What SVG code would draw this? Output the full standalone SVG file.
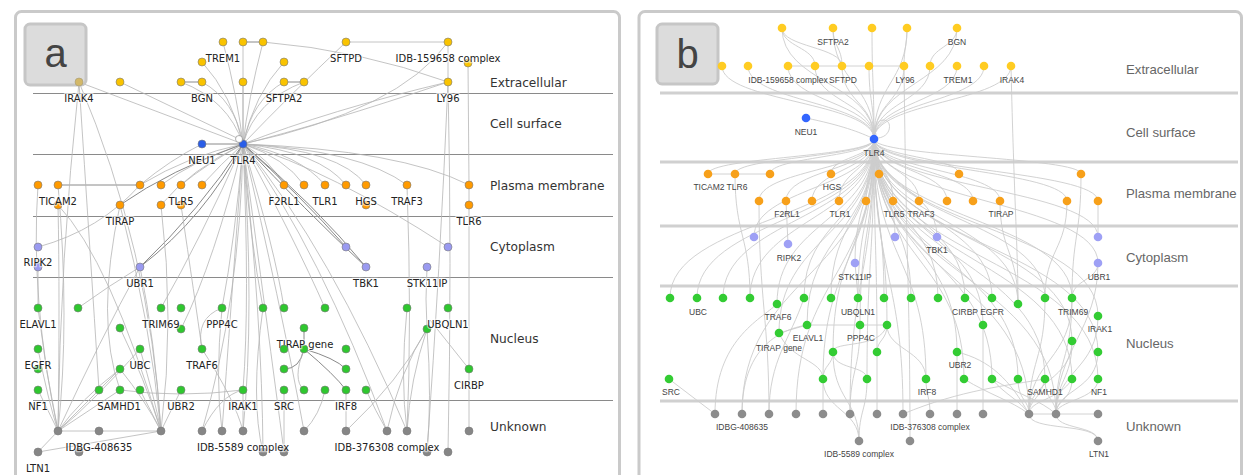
<svg xmlns="http://www.w3.org/2000/svg" width="1244" height="475" viewBox="0 0 1244 475">
<style>
.frame{fill:#fff;stroke:#cacaca;stroke-width:3}
.tag{fill:#dcdcdc;stroke:#c6c6c6;stroke-width:3}
.tagt{font-family:"Liberation Sans",Arial,sans-serif;font-size:40px;fill:#444;text-anchor:middle}
.lane-a{stroke:#8a8a8a;stroke-width:1}
.lane-b{stroke:#d0d0d0;stroke-width:3}
.ra{font-family:"DejaVu Sans",Verdana,sans-serif;font-size:12.2px;fill:#333}
.rb{font-family:"Liberation Sans",Arial,sans-serif;font-size:13.2px;fill:#666}
.ea{fill:none;stroke:#b5b5b5;stroke-width:0.8}
.ead{fill:none;stroke:#8a8a8a;stroke-width:1}
.eb{fill:none;stroke:#cdcdcd;stroke-width:0.9}
.na circle{stroke:#7a7a7a;stroke-width:0.6}
.ya{fill:#f9c300}.oa{fill:#ff9a00}.pa{fill:#9a9af0}.ga{fill:#2fc72f}.ka{fill:#868686}.ba{fill:#2a5ee8}
.yb{fill:#ffcc22}.ob{fill:#f7a01a}.pb{fill:#9ea0f5}.gb{fill:#33cc33}.kb{fill:#8c8c8c}.bb{fill:#3366ff}
.la{font-family:"DejaVu Sans",Verdana,sans-serif;font-size:10px;fill:#222;text-anchor:middle;stroke:#fff;stroke-width:2.5;stroke-opacity:.55;paint-order:stroke}
.lb{font-family:"Liberation Sans",Arial,sans-serif;font-size:8.5px;fill:#444;text-anchor:middle}
</style>

<!-- panel frames -->
<rect class="frame" x="15.5" y="11.5" width="604" height="480" rx="6"/>
<rect class="frame" x="639" y="11.5" width="602.5" height="480" rx="6"/>

<!-- compartment lanes, panel a -->
<g id="lanes-a">
<line class="lane-a" x1="33" y1="93.5" x2="613" y2="93.5"/>
<line class="lane-a" x1="33" y1="154.5" x2="613" y2="154.5"/>
<line class="lane-a" x1="33" y1="216.5" x2="613" y2="216.5"/>
<line class="lane-a" x1="33" y1="277.5" x2="613" y2="277.5"/>
<line class="lane-a" x1="33" y1="400.5" x2="613" y2="400.5"/>
<text class="ra" x="490" y="87">Extracellular</text>
<text class="ra" x="490" y="128">Cell surface</text>
<text class="ra" x="490" y="190">Plasma membrane</text>
<text class="ra" x="490" y="251">Cytoplasm</text>
<text class="ra" x="490" y="343">Nucleus</text>
<text class="ra" x="490" y="431">Unknown</text>
</g>

<!-- compartment lanes, panel b -->
<g id="lanes-b">
<line class="lane-b" x1="660" y1="93" x2="1238" y2="93"/>
<line class="lane-b" x1="660" y1="162" x2="1238" y2="162"/>
<line class="lane-b" x1="660" y1="226" x2="1238" y2="226"/>
<line class="lane-b" x1="660" y1="286" x2="1238" y2="286"/>
<line class="lane-b" x1="660" y1="401" x2="1238" y2="401"/>
<text class="rb" x="1126" y="74">Extracellular</text>
<text class="rb" x="1126" y="137">Cell surface</text>
<text class="rb" x="1126" y="198">Plasma membrane</text>
<text class="rb" x="1126" y="262">Cytoplasm</text>
<text class="rb" x="1126" y="348">Nucleus</text>
<text class="rb" x="1126" y="431">Unknown</text>
</g>

<!-- interactions, panel a -->
<g id="edges-a">
<path class="ea" d="M223,42 Q238,100 243,144"/>
<path class="ea" d="M243,42 L243,144"/>
<path class="ea" d="M263,42 Q248,100 243,144"/>
<path class="ea" d="M202,62 Q232,95 243,144"/>
<path class="ea" d="M284,62 Q254,95 243,144"/>
<path class="ea" d="M181,82 Q228,100 243,144"/>
<path class="ea" d="M202,82 Q235,100 243,144"/>
<path class="ea" d="M243,82 L243,144"/>
<path class="ea" d="M284,82 Q252,100 243,144"/>
<path class="ea" d="M304,82 Q256,100 243,144"/>
<path class="ea" d="M120,82 L239,139"/>
<path class="ea" d="M84,84 L243,144"/>
<path class="ea" d="M448,82 Q330,110 243,144"/>
<path class="ea" d="M448,82 Q320,125 243,144"/>
<path class="ea" d="M346,42 Q290,95 243,144"/>
<path class="ea" d="M448,42 Q400,110 243,144"/>
<path class="ea" d="M263,42 Q360,50 448,82"/>
<path class="ead" d="M243,42 L263,42"/>
<path class="ead" d="M181,82 L202,82"/>
<path class="ead" d="M284,82 L304,82"/>
<path class="ea" d="M346,42 L448,42"/>
<path class="ea" d="M448,42 L448,82"/>
<path class="ea" d="M448,82 Q452,260 448,452"/>
<path class="ea" d="M448,82 Q440,270 427,452"/>
<path class="ea" d="M468,63 L469,185"/>
<path class="ead" d="M202,144 L243,144"/>
<path class="ea" d="M243,144 Q190,155 140,185"/>
<path class="ea" d="M243,144 Q195,160 161,185"/>
<path class="ea" d="M243,144 Q205,165 181,185"/>
<path class="ea" d="M243,144 Q220,165 202,185"/>
<path class="ead" d="M243,144 Q170,170 120,205"/>
<path class="ea" d="M243,144 Q190,170 161,205"/>
<path class="ead" d="M58,185 L140,185"/>
<path class="ea" d="M140,185 Q170,160 202,144"/>
<path class="ea" d="M243,144 Q270,160 284,185"/>
<path class="ea" d="M243,144 Q285,158 304,185"/>
<path class="ea" d="M243,144 Q300,155 325,185"/>
<path class="ea" d="M243,144 Q320,152 346,185"/>
<path class="ea" d="M243,144 Q340,150 366,185"/>
<path class="ea" d="M243,144 Q360,150 407,185"/>
<path class="ea" d="M243,144 Q400,150 469,185"/>
<path class="ea" d="M243,144 Q330,170 448,247"/>
<path class="ead" d="M243,144 Q300,195 346,247"/>
<path class="ead" d="M243,144 Q305,210 366,267"/>
<path class="ead" d="M243,144 Q315,205 366,267"/>
<path class="ea" d="M243,144 Q330,250 407,431"/>
<path class="ea" d="M243,144 Q320,250 387,431"/>
<path class="ead" d="M243,144 Q200,210 140,267"/>
<path class="ead" d="M243,144 Q206,216 140,267"/>
<path class="ea" d="M243,144 Q250,300 243,390"/>
<path class="ea" d="M243,144 Q255,310 243,431"/>
<path class="ea" d="M243,144 Q262,320 263,452"/>
<path class="ea" d="M243,144 Q268,330 284,452"/>
<path class="ea" d="M243,144 Q235,240 222,308"/>
<path class="ea" d="M243,144 Q250,240 263,308"/>
<path class="ea" d="M243,144 Q275,250 284,308"/>
<path class="ea" d="M243,144 Q295,240 325,308"/>
<path class="ea" d="M243,144 Q200,240 161,308"/>
<path class="ea" d="M243,144 Q215,260 181,329"/>
<path class="ea" d="M243,144 Q280,300 304,431"/>
<path class="ea" d="M243,144 Q240,300 202,431"/>
<path class="ea" d="M243,144 Q230,320 222,431"/>
<path class="ea" d="M38,247 Q100,230 140,185"/>
<path class="ea" d="M38,267 L38,308"/>
<path class="ea" d="M38,185 Q30,300 58,431"/>
<path class="ea" d="M58,185 Q70,320 58,431"/>
<path class="ea" d="M58,205 Q110,260 161,431"/>
<path class="ea" d="M58,205 Q60,300 58,431"/>
<path class="ea" d="M79,82 Q60,260 58,431"/>
<path class="ea" d="M79,82 Q90,250 99,390"/>
<path class="ea" d="M79,82 Q150,250 161,431"/>
<path class="ea" d="M120,205 Q95,320 120,390"/>
<path class="ea" d="M120,205 Q150,320 161,431"/>
<path class="ea" d="M161,205 Q175,320 161,431"/>
<path class="ea" d="M181,205 Q195,300 202,349"/>
<path class="ea" d="M140,267 Q100,340 58,431"/>
<path class="ea" d="M140,267 Q155,340 161,431"/>
<path class="ea" d="M78,308 Q110,285 140,267"/>
<path class="ea" d="M38,308 Q45,370 58,431"/>
<path class="ea" d="M38,349 Q48,400 58,431"/>
<path class="ea" d="M38,390 L58,431"/>
<path class="ea" d="M99,390 L58,431"/>
<path class="ea" d="M120,390 L58,431"/>
<path class="ea" d="M120,369 Q80,400 58,431"/>
<path class="ea" d="M140,349 Q95,400 58,431"/>
<path class="ea" d="M140,390 L161,431"/>
<path class="ea" d="M181,390 L161,431"/>
<path class="ea" d="M120,369 Q145,400 161,431"/>
<path class="ea" d="M120,328 Q145,380 161,431"/>
<path class="ea" d="M140,349 Q155,400 161,431"/>
<path class="ea" d="M99,390 L120,369"/>
<path class="ea" d="M58,431 L161,431"/>
<path class="ea" d="M38,452 L161,431"/>
<path class="ea" d="M38,452 L58,431"/>
<path class="ea" d="M243,390 L243,431"/>
<path class="ea" d="M202,431 Q220,395 243,390"/>
<path class="ea" d="M243,390 Q180,398 120,390"/>
<path class="ea" d="M202,349 Q195,318 222,308"/>
<path class="ea" d="M202,349 Q235,400 243,431"/>
<path class="ead" d="M304,328 L304,349"/>
<path class="ead" d="M304,349 Q300,369 284,369"/>
<path class="ead" d="M304,349 Q335,358 346,369"/>
<path class="ead" d="M304,349 Q335,375 346,390"/>
<path class="ea" d="M304,349 Q292,380 304,390"/>
<path class="ea" d="M346,390 L346,431"/>
<path class="ea" d="M366,390 Q375,410 387,431"/>
<path class="ea" d="M325,390 Q320,415 304,431"/>
<path class="ea" d="M346,431 Q400,380 427,329"/>
<path class="ea" d="M427,329 Q410,380 407,431"/>
<path class="ea" d="M427,329 Q400,370 387,431"/>
<path class="ea" d="M427,329 Q432,400 427,452"/>
<path class="ea" d="M427,267 Q425,300 427,329"/>
<path class="ea" d="M407,185 Q412,320 407,431"/>
<path class="ea" d="M469,185 L469,369"/>
<path class="ea" d="M430,320 L469,369"/>
<path class="ea" d="M469,369 L469,431"/>
<path class="ea" d="M407,308 Q400,380 407,431"/>
<path class="ea" d="M263,308 Q250,400 263,452"/>
<path class="ea" d="M284,390 L284,452"/>
<path class="ea" d="M222,308 Q215,380 222,431"/>
</g>

<!-- interactions, panel b -->
<g id="edges-b">
<path class="eb" d="M782,28 C782,83 874,83 874,139"/>
<path class="eb" d="M833,28 C833,83 874,83 874,139"/>
<path class="eb" d="M872,28 C872,83 874,83 874,139"/>
<path class="eb" d="M907,28 C907,83 874,83 874,139"/>
<path class="eb" d="M957,28 C957,83 874,83 874,139"/>
<path class="eb" d="M722,66 C722,102 874,102 874,139"/>
<path class="eb" d="M748,66 C748,102 874,102 874,139"/>
<path class="eb" d="M788,66 C788,102 874,102 874,139"/>
<path class="eb" d="M815,66 C815,102 874,102 874,139"/>
<path class="eb" d="M842,66 C842,102 874,102 874,139"/>
<path class="eb" d="M869,66 C869,102 874,102 874,139"/>
<path class="eb" d="M904,66 C904,102 874,102 874,139"/>
<path class="eb" d="M930,66 C930,102 874,102 874,139"/>
<path class="eb" d="M957,66 C957,102 874,102 874,139"/>
<path class="eb" d="M984,66 C984,102 874,102 874,139"/>
<path class="eb" d="M1011,66 C1011,102 874,102 874,139"/>
<path class="eb" d="M788,66 L904,66"/>
<path class="eb" d="M782,28 C782,47 815,47 815,66"/>
<path class="eb" d="M782,28 C782,47 842,47 842,66"/>
<path class="eb" d="M833,28 C833,47 842,47 842,66"/>
<path class="eb" d="M907,28 C907,47 904,47 904,66"/>
<path class="eb" d="M957,28 C957,47 930,47 930,66"/>
<path class="eb" d="M904,66 C906,250 910,300 910,441"/>
<path class="eb" d="M1011,66 C1014,200 1018,250 1018,304"/>
<path class="eb" d="M806,118 C840,125 860,132 874,139"/>
<path class="eb" d="M876,135 C871,117 893,115 889,130 C887,136 881,138 877,138"/>
<path class="eb" d="M874,139 C874,157 708,157 708,174"/>
<path class="eb" d="M874,139 C874,157 735,157 735,174"/>
<path class="eb" d="M874,139 C874,157 770,157 770,174"/>
<path class="eb" d="M874,139 C874,157 831,157 831,174"/>
<path class="eb" d="M874,139 C874,157 879,157 879,174"/>
<path class="eb" d="M874,139 C874,157 959,157 959,174"/>
<path class="eb" d="M874,139 C874,157 1081,157 1081,174"/>
<path class="eb" d="M874,139 C874,170 759,170 759,201"/>
<path class="eb" d="M874,139 C874,170 786,170 786,201"/>
<path class="eb" d="M874,139 C874,170 812,170 812,201"/>
<path class="eb" d="M874,139 C874,170 839,170 839,201"/>
<path class="eb" d="M874,139 C874,170 866,170 866,201"/>
<path class="eb" d="M874,139 C874,170 893,170 893,201"/>
<path class="eb" d="M874,139 C874,170 919,170 919,201"/>
<path class="eb" d="M874,139 C874,170 947,170 947,201"/>
<path class="eb" d="M874,139 C874,170 973,170 973,201"/>
<path class="eb" d="M874,139 C874,170 1000,170 1000,201"/>
<path class="eb" d="M874,139 C874,170 1067,170 1067,201"/>
<path class="eb" d="M874,139 C874,170 1098,170 1098,201"/>
<path class="eb" d="M874,139 C874,188 754,188 754,237"/>
<path class="eb" d="M874,139 C874,201 855,201 855,263"/>
<path class="eb" d="M874,139 C874,188 895,188 895,237"/>
<path class="eb" d="M874,139 C874,188 937,188 937,237"/>
<path class="eb" d="M874,139 C874,188 1098,188 1098,237"/>
<path class="eb" d="M874,139 C874,201 1098,201 1098,263"/>
<path class="eb" d="M874,139 C874,219 670,219 670,298"/>
<path class="eb" d="M874,139 C874,219 697,219 697,298"/>
<path class="eb" d="M874,139 C874,219 723,219 723,298"/>
<path class="eb" d="M874,139 C874,219 750,219 750,298"/>
<path class="eb" d="M874,139 C874,219 804,219 804,298"/>
<path class="eb" d="M874,139 C874,219 831,219 831,298"/>
<path class="eb" d="M874,139 C874,219 858,219 858,298"/>
<path class="eb" d="M874,139 C874,219 884,219 884,298"/>
<path class="eb" d="M874,139 C874,219 911,219 911,298"/>
<path class="eb" d="M874,139 C874,219 938,219 938,298"/>
<path class="eb" d="M874,139 C874,219 965,219 965,298"/>
<path class="eb" d="M874,139 C874,219 992,219 992,298"/>
<path class="eb" d="M874,139 C874,219 1045,219 1045,298"/>
<path class="eb" d="M874,139 C874,219 1072,219 1072,298"/>
<path class="eb" d="M874,139 C874,221 777,221 777,304"/>
<path class="eb" d="M874,139 C874,221 1018,221 1018,304"/>
<path class="eb" d="M874,139 C874,227 1098,227 1098,316"/>
<path class="eb" d="M874,139 C874,232 807,232 807,325"/>
<path class="eb" d="M874,139 C874,232 860,232 860,325"/>
<path class="eb" d="M874,139 C874,232 887,232 887,325"/>
<path class="eb" d="M874,139 C874,232 983,232 983,325"/>
<path class="eb" d="M874,139 C874,236 779,236 779,333"/>
<path class="eb" d="M874,139 C874,240 1072,240 1072,341"/>
<path class="eb" d="M874,139 C874,245 833,245 833,352"/>
<path class="eb" d="M874,139 C874,245 877,245 877,352"/>
<path class="eb" d="M874,139 C874,245 957,245 957,352"/>
<path class="eb" d="M874,139 C874,245 1098,245 1098,352"/>
<path class="eb" d="M874,139 C874,259 823,259 823,379"/>
<path class="eb" d="M874,139 C874,259 867,259 867,379"/>
<path class="eb" d="M874,139 C874,259 926,259 926,379"/>
<path class="eb" d="M874,139 C874,259 964,259 964,379"/>
<path class="eb" d="M874,139 C874,259 992,259 992,379"/>
<path class="eb" d="M874,139 C874,259 1018,259 1018,379"/>
<path class="eb" d="M874,139 C874,259 1045,259 1045,379"/>
<path class="eb" d="M874,139 C874,259 1072,259 1072,379"/>
<path class="eb" d="M874,139 C874,259 1098,259 1098,379"/>
<path class="eb" d="M874,139 C874,276 742,276 742,414"/>
<path class="eb" d="M874,139 C874,276 796,276 796,414"/>
<path class="eb" d="M874,139 C874,276 850,276 850,414"/>
<path class="eb" d="M874,139 C874,276 903,276 903,414"/>
<path class="eb" d="M874,139 C874,276 1029,276 1029,414"/>
<path class="eb" d="M874,139 C874,276 1056,276 1056,414"/>
<path class="eb" d="M708,174 L770,174"/>
<path class="eb" d="M735,174 C735,236 750,236 750,298"/>
<path class="eb" d="M759,201 C759,300 769,320 769,414"/>
<path class="eb" d="M786,201 L788,244"/>
<path class="eb" d="M855,263 L858,298"/>
<path class="eb" d="M1098,201 L1098,237"/>
<path class="eb" d="M1098,263 C1098,330 1056,350 1056,414"/>
<path class="eb" d="M1098,263 C1098,280 1072,280 1072,298"/>
<path class="eb" d="M1081,174 C1081,236 1072,236 1072,298"/>
<path class="eb" d="M1067,201 C1067,250 1045,250 1045,298"/>
<path class="eb" d="M1000,201 C1000,252 1018,252 1018,304"/>
<path class="eb" d="M983,325 L983,414"/>
<path class="eb" d="M957,352 L957,414"/>
<path class="eb" d="M669,379 L715,414"/>
<path class="eb" d="M807,325 L887,325"/>
<path class="eb" d="M779,333 L807,325"/>
<path class="eb" d="M887,325 C887,340 877,340 877,352"/>
<path class="eb" d="M887,325 C887,350 926,350 926,379"/>
<path class="eb" d="M887,325 C880,350 833,340 833,352"/>
<path class="eb" d="M833,352 C833,365 823,365 823,379"/>
<path class="eb" d="M833,352 C833,370 867,365 867,379"/>
<path class="eb" d="M833,352 C833,400 859,400 859,441"/>
<path class="eb" d="M867,379 C867,410 859,410 859,441"/>
<path class="eb" d="M823,379 C823,410 859,410 859,441"/>
<path class="eb" d="M779,333 C790,360 823,360 823,379"/>
<path class="eb" d="M877,352 L877,414"/>
<path class="eb" d="M860,325 C860,370 850,370 850,414"/>
<path class="eb" d="M823,379 L823,414"/>
<path class="eb" d="M926,379 C926,396 930,396 930,414"/>
<path class="eb" d="M715,414 C715,340 760,320 777,304"/>
<path class="eb" d="M742,414 C742,350 777,330 807,325"/>
<path class="eb" d="M769,414 C769,360 790,340 804,298"/>
<path class="eb" d="M964,379 C990,395 1010,400 1029,414"/>
<path class="eb" d="M992,379 C1005,395 1020,400 1029,414"/>
<path class="eb" d="M992,379 C1020,395 1040,400 1056,414"/>
<path class="eb" d="M1018,379 C1018,400 1029,400 1029,414"/>
<path class="eb" d="M1045,379 C1045,400 1056,400 1056,414"/>
<path class="eb" d="M1045,379 C1040,400 1029,400 1029,414"/>
<path class="eb" d="M1072,379 C1072,400 1056,400 1056,414"/>
<path class="eb" d="M1072,379 C1060,400 1029,400 1029,414"/>
<path class="eb" d="M1098,379 C1098,400 1056,400 1056,414"/>
<path class="eb" d="M1098,352 C1098,390 1056,390 1056,414"/>
<path class="eb" d="M1072,341 C1072,380 1056,380 1056,414"/>
<path class="eb" d="M1072,341 C1072,380 1029,380 1029,414"/>
<path class="eb" d="M1072,298 C1072,360 1029,360 1029,414"/>
<path class="eb" d="M1072,298 C1072,360 1056,360 1056,414"/>
<path class="eb" d="M1098,316 C1098,370 1056,370 1056,414"/>
<path class="eb" d="M1045,298 C1045,360 1029,360 1029,414"/>
<path class="eb" d="M1029,414 L1098,414"/>
<path class="eb" d="M1029,414 C1029,432 1098,422 1098,441"/>
<path class="eb" d="M1056,414 C1056,430 1098,425 1098,441"/>
<path class="eb" d="M903,414 C960,390 1010,385 1045,379"/>
<path class="eb" d="M957,352 C990,360 1010,380 1029,414"/>
</g>

<!-- panel tags -->
<g id="tag-a"><rect class="tag" x="25" y="24" width="61" height="61" rx="5"/><text class="tagt" x="55.5" y="67">a</text></g>
<g id="tag-b"><rect class="tag" x="657" y="24" width="61" height="60" rx="5"/><text class="tagt" x="687.5" y="68">b</text></g>

<!-- proteins, panel a -->
<g class="na">
<g id="a-y08"><circle class="ya" cx="468" cy="63" r="4"/></g>
<g id="a-o14"><circle class="oa" cx="58" cy="205" r="4"/></g>
<g id="a-o17"><circle class="oa" cx="181" cy="205" r="4"/></g>
<g id="a-o18"><circle class="oa" cx="366" cy="205" r="4"/></g>
<g id="a-p02"><circle class="pa" cx="38" cy="267" r="4"/></g>
<g id="a-g21"><circle class="ga" cx="181" cy="329" r="4"/></g>
<g id="a-g22"><circle class="ga" cx="427" cy="329" r="4"/></g>
<g id="a-g23"><circle class="ga" cx="304" cy="349" r="4"/></g>
<g id="a-g24"><circle class="ga" cx="38" cy="369" r="4"/></g>
<g id="a-k14"><circle class="ka" cx="79" cy="452" r="4"/></g>
<g id="a-k15"><circle class="ka" cx="263" cy="452" r="4"/></g>
<g id="a-k16"><circle class="ka" cx="284" cy="452" r="4"/></g>
<g id="a-k17"><circle class="ka" cx="427" cy="452" r="4"/></g>

<g id="a-trem1"><circle class="ya" cx="223" cy="42" r="4"/><text class="la" x="223" y="62">TREM1</text></g>
<g id="a-y02"><circle class="ya" cx="243" cy="42" r="4"/></g>
<g id="a-y03"><circle class="ya" cx="263" cy="42" r="4"/></g>
<g id="a-sftpd"><circle class="ya" cx="346" cy="42" r="4"/><text class="la" x="346" y="62">SFTPD</text></g>
<g id="a-idb159658"><circle class="ya" cx="448" cy="42" r="4"/><text class="la" x="448" y="62">IDB-159658 complex</text></g>
<g id="a-y06"><circle class="ya" cx="202" cy="62" r="4"/></g>
<g id="a-y07"><circle class="ya" cx="284" cy="62" r="4"/></g>
<g id="a-irak4"><circle cx="79" cy="82" r="4" fill="#d3b868" style="stroke:#a59a7a"/><text class="la" x="79" y="102">IRAK4</text></g>
<g id="a-y10"><circle class="ya" cx="120" cy="82" r="4"/></g>
<g id="a-y11"><circle class="ya" cx="181" cy="82" r="4"/></g>
<g id="a-bgn"><circle class="ya" cx="202" cy="82" r="4"/><text class="la" x="202" y="102">BGN</text></g>
<g id="a-y13"><circle class="ya" cx="243" cy="82" r="4"/></g>
<g id="a-sftpa2"><circle class="ya" cx="284" cy="82" r="4"/><text class="la" x="284" y="102">SFTPA2</text></g>
<g id="a-y15"><circle class="ya" cx="304" cy="82" r="4"/></g>
<g id="a-ly96"><circle class="ya" cx="448" cy="82" r="4"/><text class="la" x="448" y="102">LY96</text></g>

<g id="a-neu1"><circle class="ba" cx="202" cy="144" r="4"/><text class="la" x="202" y="164">NEU1</text></g>
<g id="a-tlr4"><circle class="ba" cx="243" cy="144" r="4"/><text class="la" x="243" y="164">TLR4</text></g>
<g id="a-w01"><circle cx="239" cy="139" r="3.5" fill="#fff"/></g>

<g id="a-o01"><circle class="oa" cx="38" cy="185" r="4"/></g>
<g id="a-ticam2"><circle class="oa" cx="58" cy="185" r="4"/><text class="la" x="58" y="205">TICAM2</text></g>
<g id="a-o03"><circle class="oa" cx="140" cy="185" r="4"/></g>
<g id="a-o04"><circle class="oa" cx="161" cy="185" r="4"/></g>
<g id="a-tlr5"><circle class="oa" cx="181" cy="185" r="4"/><text class="la" x="181" y="205">TLR5</text></g>
<g id="a-o06"><circle class="oa" cx="202" cy="185" r="4"/></g>
<g id="a-f2rl1"><circle class="oa" cx="284" cy="185" r="4"/><text class="la" x="284" y="205">F2RL1</text></g>
<g id="a-o08"><circle class="oa" cx="304" cy="185" r="4"/></g>
<g id="a-tlr1"><circle class="oa" cx="325" cy="185" r="4"/><text class="la" x="325" y="205">TLR1</text></g>
<g id="a-o10"><circle class="oa" cx="346" cy="185" r="4"/></g>
<g id="a-hgs"><circle class="oa" cx="366" cy="185" r="4"/><text class="la" x="366" y="205">HGS</text></g>
<g id="a-traf3"><circle class="oa" cx="407" cy="185" r="4"/><text class="la" x="407" y="205">TRAF3</text></g>
<g id="a-o13"><circle class="oa" cx="469" cy="185" r="4"/></g>
<g id="a-tirap"><circle class="oa" cx="120" cy="205" r="4"/><text class="la" x="120" y="225">TIRAP</text></g>
<g id="a-o16"><circle class="oa" cx="161" cy="205" r="4"/></g>
<g id="a-tlr6"><circle class="oa" cx="469" cy="205" r="4"/><text class="la" x="469" y="225">TLR6</text></g>

<g id="a-ripk2"><circle class="pa" cx="38" cy="247" r="4"/><text class="la" x="38" y="266">RIPK2</text></g>
<g id="a-ubr1"><circle class="pa" cx="140" cy="267" r="4"/><text class="la" x="140" y="287">UBR1</text></g>
<g id="a-p04"><circle class="pa" cx="346" cy="247" r="4"/></g>
<g id="a-tbk1"><circle class="pa" cx="366" cy="267" r="4"/><text class="la" x="366" y="287">TBK1</text></g>
<g id="a-p06"><circle class="pa" cx="448" cy="247" r="4"/></g>
<g id="a-stk11ip"><circle class="pa" cx="427" cy="267" r="4"/><text class="la" x="427" y="287">STK11IP</text></g>

<g id="a-elavl1"><circle class="ga" cx="38" cy="308" r="4"/><text class="la" x="38" y="328">ELAVL1</text></g>
<g id="a-g02"><circle class="ga" cx="78" cy="308" r="4"/></g>
<g id="a-trim69"><circle class="ga" cx="161" cy="308" r="4"/><text class="la" x="161" y="328">TRIM69</text></g>
<g id="a-g04"><circle class="ga" cx="181" cy="308" r="4"/></g>
<g id="a-ppp4c"><circle class="ga" cx="222" cy="308" r="4"/><text class="la" x="222" y="328">PPP4C</text></g>
<g id="a-g06"><circle class="ga" cx="263" cy="308" r="4"/></g>
<g id="a-g07"><circle class="ga" cx="284" cy="308" r="4"/></g>
<g id="a-g08"><circle class="ga" cx="325" cy="308" r="4"/></g>
<g id="a-g09"><circle class="ga" cx="407" cy="308" r="4"/></g>
<g id="a-ubqln1"><circle class="ga" cx="448" cy="308" r="4"/><text class="la" x="448" y="328">UBQLN1</text></g>
<g id="a-g11"><circle class="ga" cx="120" cy="328" r="4"/></g>
<g id="a-tirapgene"><circle class="ga" cx="304" cy="328" r="4"/><text class="la" x="305" y="348">TIRAP gene</text></g>
<g id="a-egfr"><circle class="ga" cx="38" cy="349" r="4"/><text class="la" x="38" y="369">EGFR</text></g>
<g id="a-ubc"><circle class="ga" cx="140" cy="349" r="4"/><text class="la" x="140" y="369">UBC</text></g>
<g id="a-traf6"><circle class="ga" cx="202" cy="349" r="4"/><text class="la" x="202" y="369">TRAF6</text></g>
<g id="a-g16"><circle class="ga" cx="284" cy="349" r="4"/></g>
<g id="a-g17"><circle class="ga" cx="346" cy="349" r="4"/></g>
<g id="a-g18"><circle class="ga" cx="120" cy="369" r="4"/></g>
<g id="a-g19"><circle class="ga" cx="284" cy="369" r="4"/></g>
<g id="a-g20"><circle class="ga" cx="346" cy="369" r="4"/></g>
<g id="a-cirbp"><circle class="ga" cx="469" cy="369" r="4"/><text class="la" x="469" y="389">CIRBP</text></g>
<g id="a-nf1"><circle class="ga" cx="38" cy="390" r="4"/><text class="la" x="38" y="410">NF1</text></g>
<g id="a-g26"><circle class="ga" cx="99" cy="390" r="4"/></g>
<g id="a-samhd1"><circle class="ga" cx="120" cy="390" r="4"/><text class="la" x="119" y="410">SAMHD1</text></g>
<g id="a-g28"><circle class="ga" cx="140" cy="390" r="4"/></g>
<g id="a-ubr2"><circle class="ga" cx="181" cy="390" r="4"/><text class="la" x="181" y="410">UBR2</text></g>
<g id="a-irak1"><circle class="ga" cx="243" cy="390" r="4"/><text class="la" x="243" y="410">IRAK1</text></g>
<g id="a-src"><circle class="ga" cx="284" cy="390" r="4"/><text class="la" x="284" y="410">SRC</text></g>
<g id="a-g32"><circle class="ga" cx="304" cy="390" r="4"/></g>
<g id="a-g33"><circle class="ga" cx="325" cy="390" r="4"/></g>
<g id="a-irf8"><circle class="ga" cx="346" cy="390" r="4"/><text class="la" x="346" y="410">IRF8</text></g>
<g id="a-g35"><circle class="ga" cx="366" cy="390" r="4"/></g>

<g id="a-k01"><circle class="ka" cx="58" cy="431" r="4"/></g>
<g id="a-idbg408635"><circle class="ka" cx="99" cy="431" r="4"/><text class="la" x="99" y="451">IDBG-408635</text></g>
<g id="a-k03"><circle class="ka" cx="161" cy="431" r="4"/></g>
<g id="a-k04"><circle class="ka" cx="202" cy="431" r="4"/></g>
<g id="a-k05"><circle class="ka" cx="222" cy="431" r="4"/></g>
<g id="a-idb5589"><circle class="ka" cx="243" cy="431" r="4"/><text class="la" x="243" y="451">IDB-5589 complex</text></g>
<g id="a-k07"><circle class="ka" cx="304" cy="431" r="4"/></g>
<g id="a-k08"><circle class="ka" cx="346" cy="431" r="4"/></g>
<g id="a-idb376308"><circle class="ka" cx="387" cy="431" r="4"/><text class="la" x="387" y="451">IDB-376308 complex</text></g>
<g id="a-k10"><circle class="ka" cx="407" cy="431" r="4"/></g>
<g id="a-k11"><circle class="ka" cx="469" cy="431" r="4"/></g>
<g id="a-ltn1"><circle class="ka" cx="38" cy="452" r="4"/><text class="la" x="38" y="472">LTN1</text></g>
<g id="a-k13"><circle class="ka" cx="448" cy="452" r="4"/></g>
</g>

<!-- proteins, panel b -->
<g class="nb">
<g id="b-y01"><circle class="yb" cx="782" cy="28" r="4.3"/></g>
<g id="b-sftpa2"><circle class="yb" cx="833" cy="28" r="4.3"/><text class="lb" x="833" y="45">SFTPA2</text></g>
<g id="b-y03"><circle class="yb" cx="872" cy="28" r="4.3"/></g>
<g id="b-y04"><circle class="yb" cx="907" cy="28" r="4.3"/></g>
<g id="b-bgn"><circle class="yb" cx="957" cy="28" r="4.3"/><text class="lb" x="957" y="45">BGN</text></g>
<g id="b-y06"><circle class="yb" cx="722" cy="66" r="4.3"/></g>
<g id="b-y07"><circle class="yb" cx="748" cy="66" r="4.3"/></g>
<g id="b-idb159658"><circle class="yb" cx="788" cy="66" r="4.3"/><text class="lb" x="788" y="83">IDB-159658 complex</text></g>
<g id="b-y09"><circle class="yb" cx="815" cy="66" r="4.3"/></g>
<g id="b-sftpd"><circle class="yb" cx="842" cy="66" r="4.3"/><text class="lb" x="843" y="83">SFTPD</text></g>
<g id="b-y11"><circle class="yb" cx="869" cy="66" r="4.3"/></g>
<g id="b-ly96"><circle class="yb" cx="904" cy="66" r="4.3"/><text class="lb" x="905" y="83">LY96</text></g>
<g id="b-y13"><circle class="yb" cx="930" cy="66" r="4.3"/></g>
<g id="b-trem1"><circle class="yb" cx="957" cy="66" r="4.3"/><text class="lb" x="958" y="83">TREM1</text></g>
<g id="b-y15"><circle class="yb" cx="984" cy="66" r="4.3"/></g>
<g id="b-irak4"><circle class="yb" cx="1011" cy="66" r="4.3"/><text class="lb" x="1012" y="83">IRAK4</text></g>

<g id="b-neu1"><circle class="bb" cx="806" cy="118" r="4.3"/><text class="lb" x="806" y="135">NEU1</text></g>
<g id="b-tlr4"><circle class="bb" cx="874" cy="139" r="4.3"/><text class="lb" x="874" y="156">TLR4</text></g>

<g id="b-ticam2"><circle class="ob" cx="708" cy="174" r="4.3"/><text class="lb" x="709" y="190">TICAM2</text></g>
<g id="b-tlr6"><circle class="ob" cx="735" cy="174" r="4.3"/><text class="lb" x="737" y="190">TLR6</text></g>
<g id="b-o03"><circle class="ob" cx="770" cy="174" r="4.3"/></g>
<g id="b-hgs"><circle class="ob" cx="831" cy="174" r="4.3"/><text class="lb" x="832" y="190">HGS</text></g>
<g id="b-o05"><circle class="ob" cx="879" cy="174" r="4.3"/></g>
<g id="b-o06"><circle class="ob" cx="959" cy="174" r="4.3"/></g>
<g id="b-o07"><circle class="ob" cx="1081" cy="174" r="4.3"/></g>
<g id="b-o08"><circle class="ob" cx="759" cy="201" r="4.3"/></g>
<g id="b-f2rl1"><circle class="ob" cx="786" cy="201" r="4.3"/><text class="lb" x="787" y="217">F2RL1</text></g>
<g id="b-o10"><circle class="ob" cx="812" cy="201" r="4.3"/></g>
<g id="b-tlr1"><circle class="ob" cx="839" cy="201" r="4.3"/><text class="lb" x="840" y="217">TLR1</text></g>
<g id="b-o12"><circle class="ob" cx="866" cy="201" r="4.3"/></g>
<g id="b-tlr5"><circle class="ob" cx="893" cy="201" r="4.3"/><text class="lb" x="894" y="217">TLR5</text></g>
<g id="b-traf3"><circle class="ob" cx="919" cy="201" r="4.3"/><text class="lb" x="921" y="217">TRAF3</text></g>
<g id="b-o15"><circle class="ob" cx="947" cy="201" r="4.3"/></g>
<g id="b-o16"><circle class="ob" cx="973" cy="201" r="4.3"/></g>
<g id="b-tirap"><circle class="ob" cx="1000" cy="201" r="4.3"/><text class="lb" x="1001" y="217">TIRAP</text></g>
<g id="b-o18"><circle class="ob" cx="1067" cy="201" r="4.3"/></g>
<g id="b-o19"><circle class="ob" cx="1098" cy="201" r="4.3"/></g>

<g id="b-p01"><circle class="pb" cx="754" cy="237" r="4.3"/></g>
<g id="b-ripk2"><circle class="pb" cx="788" cy="244" r="4.3"/><text class="lb" x="789" y="261">RIPK2</text></g>
<g id="b-stk11ip"><circle class="pb" cx="855" cy="263" r="4.3"/><text class="lb" x="855" y="280">STK11IP</text></g>
<g id="b-p04"><circle class="pb" cx="895" cy="237" r="4.3"/></g>
<g id="b-tbk1"><circle class="pb" cx="937" cy="237" r="4.3"/><text class="lb" x="937" y="253">TBK1</text></g>
<g id="b-p06"><circle class="pb" cx="1098" cy="237" r="4.3"/></g>
<g id="b-ubr1"><circle class="pb" cx="1098" cy="263" r="4.3"/><text class="lb" x="1099" y="280">UBR1</text></g>

<g id="b-g01"><circle class="gb" cx="670" cy="298" r="4.3"/></g>
<g id="b-ubc"><circle class="gb" cx="697" cy="298" r="4.3"/><text class="lb" x="698" y="315">UBC</text></g>
<g id="b-g03"><circle class="gb" cx="723" cy="298" r="4.3"/></g>
<g id="b-g04"><circle class="gb" cx="750" cy="298" r="4.3"/></g>
<g id="b-g05"><circle class="gb" cx="804" cy="298" r="4.3"/></g>
<g id="b-g06"><circle class="gb" cx="831" cy="298" r="4.3"/></g>
<g id="b-ubqln1"><circle class="gb" cx="858" cy="298" r="4.3"/><text class="lb" x="858" y="315">UBQLN1</text></g>
<g id="b-g08"><circle class="gb" cx="884" cy="298" r="4.3"/></g>
<g id="b-g09"><circle class="gb" cx="911" cy="298" r="4.3"/></g>
<g id="b-g10"><circle class="gb" cx="938" cy="298" r="4.3"/></g>
<g id="b-cirbp"><circle class="gb" cx="965" cy="298" r="4.3"/><text class="lb" x="965" y="315">CIRBP</text></g>
<g id="b-egfr"><circle class="gb" cx="992" cy="298" r="4.3"/><text class="lb" x="992" y="315">EGFR</text></g>
<g id="b-g13"><circle class="gb" cx="1045" cy="298" r="4.3"/></g>
<g id="b-trim69"><circle class="gb" cx="1072" cy="298" r="4.3"/><text class="lb" x="1073" y="315">TRIM69</text></g>
<g id="b-traf6"><circle class="gb" cx="777" cy="304" r="4.3"/><text class="lb" x="778" y="320">TRAF6</text></g>
<g id="b-g16"><circle class="gb" cx="1018" cy="304" r="4.3"/></g>
<g id="b-irak1"><circle class="gb" cx="1098" cy="316" r="4.3"/><text class="lb" x="1100" y="332">IRAK1</text></g>
<g id="b-elavl1"><circle class="gb" cx="807" cy="325" r="4.3"/><text class="lb" x="808" y="341">ELAVL1</text></g>
<g id="b-ppp4c"><circle class="gb" cx="860" cy="325" r="4.3"/><text class="lb" x="861" y="341">PPP4C</text></g>
<g id="b-g20"><circle class="gb" cx="887" cy="325" r="4.3"/></g>
<g id="b-g21"><circle class="gb" cx="983" cy="325" r="4.3"/></g>
<g id="b-tirapgene"><circle class="gb" cx="779" cy="333" r="4.3"/><text class="lb" x="779" y="350.5">TIRAP gene</text></g>
<g id="b-g23"><circle class="gb" cx="1072" cy="341" r="4.3"/></g>
<g id="b-g24"><circle class="gb" cx="833" cy="352" r="4.3"/></g>
<g id="b-g25"><circle class="gb" cx="877" cy="352" r="4.3"/></g>
<g id="b-ubr2"><circle class="gb" cx="957" cy="352" r="4.3"/><text class="lb" x="960" y="368">UBR2</text></g>
<g id="b-g27"><circle class="gb" cx="1098" cy="352" r="4.3"/></g>
<g id="b-src"><circle class="gb" cx="669" cy="379" r="4.3"/><text class="lb" x="671" y="395">SRC</text></g>
<g id="b-g29"><circle class="gb" cx="823" cy="379" r="4.3"/></g>
<g id="b-g30"><circle class="gb" cx="867" cy="379" r="4.3"/></g>
<g id="b-irf8"><circle class="gb" cx="926" cy="379" r="4.3"/><text class="lb" x="927" y="395">IRF8</text></g>
<g id="b-g32"><circle class="gb" cx="964" cy="379" r="4.3"/></g>
<g id="b-g33"><circle class="gb" cx="992" cy="379" r="4.3"/></g>
<g id="b-g34"><circle class="gb" cx="1018" cy="379" r="4.3"/></g>
<g id="b-samhd1"><circle class="gb" cx="1045" cy="379" r="4.3"/><text class="lb" x="1045" y="395">SAMHD1</text></g>
<g id="b-g36"><circle class="gb" cx="1072" cy="379" r="4.3"/></g>
<g id="b-nf1"><circle class="gb" cx="1098" cy="379" r="4.3"/><text class="lb" x="1099" y="395">NF1</text></g>

<g id="b-k01"><circle class="kb" cx="715" cy="414" r="4.3"/></g>
<g id="b-idbg408635"><circle class="kb" cx="742" cy="414" r="4.3"/><text class="lb" x="742" y="430">IDBG-408635</text></g>
<g id="b-k03"><circle class="kb" cx="769" cy="414" r="4.3"/></g>
<g id="b-k04"><circle class="kb" cx="796" cy="414" r="4.3"/></g>
<g id="b-k05"><circle class="kb" cx="823" cy="414" r="4.3"/></g>
<g id="b-k06"><circle class="kb" cx="850" cy="414" r="4.3"/></g>
<g id="b-k07"><circle class="kb" cx="877" cy="414" r="4.3"/></g>
<g id="b-k08"><circle class="kb" cx="903" cy="414" r="4.3"/></g>
<g id="b-idb376308"><circle class="kb" cx="930" cy="414" r="4.3"/><text class="lb" x="930" y="430">IDB-376308 complex</text></g>
<g id="b-k10"><circle class="kb" cx="957" cy="414" r="4.3"/></g>
<g id="b-k11"><circle class="kb" cx="983" cy="414" r="4.3"/></g>
<g id="b-k12"><circle class="kb" cx="1029" cy="414" r="4.3"/></g>
<g id="b-k13"><circle class="kb" cx="1056" cy="414" r="4.3"/></g>
<g id="b-k14"><circle class="kb" cx="1098" cy="414" r="4.3"/></g>
<g id="b-idb5589"><circle class="kb" cx="859" cy="441" r="4.3"/><text class="lb" x="859" y="457">IDB-5589 complex</text></g>
<g id="b-k16"><circle class="kb" cx="910" cy="441" r="4.3"/></g>
<g id="b-ltn1"><circle class="kb" cx="1098" cy="441" r="4.3"/><text class="lb" x="1099" y="457">LTN1</text></g>
</g>
</svg>
